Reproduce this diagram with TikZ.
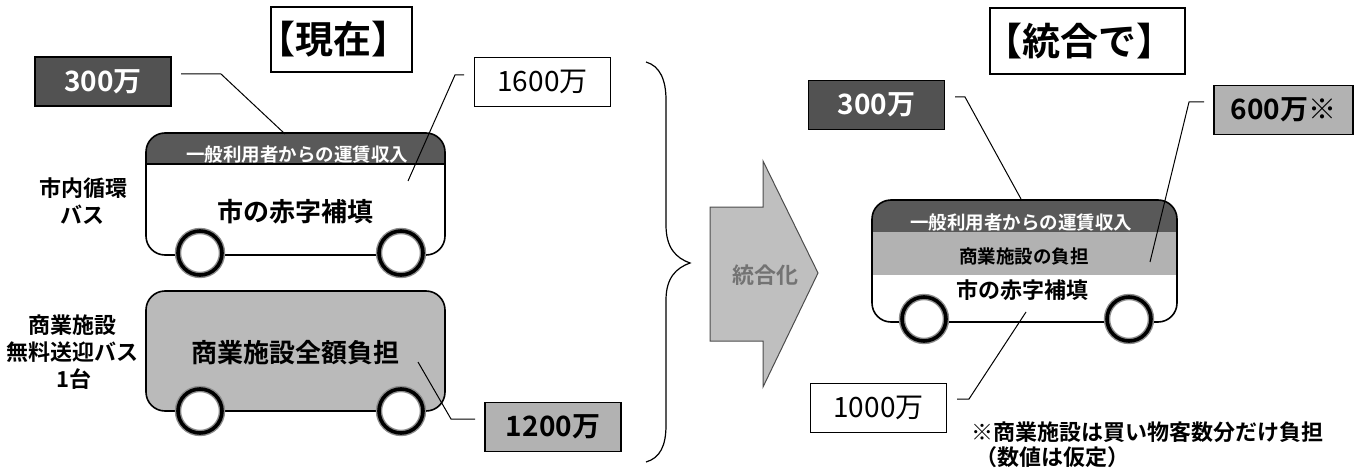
\documentclass[tikz,border=0pt]{standalone}
\usepackage{fontspec}
\setmainfont{Noto Sans CJK JP}[BoldFont={Noto Sans CJK JP Bold}]
\newcommand{\fs}[1]{\fontsize{#1pt}{#1pt}\selectfont}
\newcommand{\tgt}{\hspace{-.42em}}
\tikzset{
  valbox/.style={draw=black,line width=1.2pt,minimum width=#1,minimum height=49pt,inner sep=0pt,font=\fs{28}\bfseries},
  valbox/.default=136pt,
  darkbox/.style={valbox,fill=black!68,text=white},
  lightbox/.style={valbox,fill=black!30,text=black},
  whitebox/.style={valbox,fill=white,text=black,font=\fs{28}},
  titlebox/.style={draw=black,line width=1.2pt,fill=white,inner sep=0pt,font=\fs{38}\bfseries},
  busbody/.style={rounded corners=19pt,line width=1.6pt},
  wheel/.style={circle,draw=black!45,double=black,line width=1.4pt,double distance=3.6pt,fill=white,
     minimum size=44pt,inner sep=0pt},
  leader/.style={draw=black,line width=1pt},
  captxt/.style={inner sep=0pt,font=\fs{22}\bfseries,text=black},
  bandtxt/.style={inner sep=0pt,font=\fs{18.5}\bfseries,text=white},
  bustxt/.style={inner sep=0pt,font=\fs{26}\bfseries,text=black},
  bustxts/.style={inner sep=0pt,font=\fs{22}\bfseries,text=black},
}
\begin{document}
\begin{tikzpicture}[x=1pt,y=-1pt]
\useasboundingbox (0,0) rectangle (1362,468);

% titles
\node[titlebox,minimum width=141pt,minimum height=65pt] (t1) at (341.5,39.5) {\tgt【現在】\tgt};
\node[titlebox,minimum width=195pt,minimum height=66pt] (t2) at (1087.5,41) {\tgt【統合で】\tgt};

% left: bus 1
\fill[white,rounded corners=19pt] (146,133) rectangle (445,255);
\begin{scope}
  \clip[rounded corners=19pt] (146,133) rectangle (445,255);
  \fill[black!65] (146,133) rectangle (445,164);
\end{scope}
\draw[busbody] (146,133) rectangle (445,255);
\draw[line width=1.2pt] (146,164) -- (445,164);
\node[bandtxt] (b1band) at (297,155) {一般利用者からの運賃収入};
\node[bustxt] (b1txt) at (295,212) {市の赤字補填};
\node[wheel] (w1a) at (200,253) {};
\node[wheel] (w1b) at (401,253) {};

% left: bus 2
\filldraw[busbody,fill=black!27] (146,291) rectangle (445,411);
\node[bustxt] (b2txt) at (295,353) {商業施設全額負担};
\node[wheel] (w2a) at (200,411) {};
\node[wheel] (w2b) at (401,411) {};

% captions
\node[captxt] (c1) at (83,188) {市内循環};
\node[captxt] (c2) at (82,215) {バス};
\node[captxt] (c3) at (72,325) {商業施設};
\node[captxt] (c4) at (72,352) {無料送迎バス};
\node[captxt] (c5) at (74,379) {1台};

% left value boxes
\node[darkbox] (v300a) at (103,81.5) {300万};
\node[whitebox] (v1600) at (542.5,82) {1600万};
\node[lightbox] (v1200) at (553,427) {1200万};

% left leaders
\coordinate (l1s) at (181,74); \coordinate (l1e) at (285,134);
\draw[leader] (l1s) -- (221,74) -- (l1e);
\coordinate (l2s) at (464,75); \coordinate (l2e) at (408,181);
\draw[leader] (l2s) -- (455,75) -- (l2e);
\coordinate (l3s) at (418,362); \coordinate (l3e) at (475,419);
\draw[leader] (l3s) -- (451,419) -- (l3e);

% brace
\coordinate (brTop) at (646,62); \coordinate (brTip) at (690,263); \coordinate (brBot) at (646,462);
\draw[line width=1.2pt] (brTop) .. controls (660,66) and (666,80) .. (666,100)
  -- (666,225) .. controls (666,248) and (676,258) .. (brTip)
  .. controls (676,268) and (666,278) .. (666,300)
  -- (666,425) .. controls (666,446) and (660,458) .. (brBot);

% big arrow
\filldraw[draw=black!70,line width=1pt,fill=black!25]
  (710,207) -- (763,207) -- (763,161) -- (818,273) -- (763,387) -- (763,341) -- (710,341) -- cycle;
\node[inner sep=0pt,font=\fs{22}\bfseries,text=black!55] (int) at (765,275) {統合化};

% right: bus 3
\fill[white,rounded corners=19pt] (872,200) rectangle (1177,322);
\begin{scope}
  \clip[rounded corners=19pt] (872,200) rectangle (1177,322);
  \fill[black!65] (872,200) rectangle (1177,232);
  \fill[black!30] (872,232) rectangle (1177,275);
\end{scope}
\draw[busbody] (872,200) rectangle (1177,322);
\node[bandtxt] (b3band) at (1021,223) {一般利用者からの運賃収入};
\node[inner sep=0pt,font=\fs{18.5}\bfseries,text=black] (b3mid) at (1024,257) {商業施設の負担};
\node[bustxts] (b3txt) at (1022,290) {市の赤字補填};
\node[wheel] (w3a) at (924,319) {};
\node[wheel] (w3b) at (1129,319) {};

% right value boxes
\node[darkbox] (v300b) at (876.5,105) {300万};
\node[lightbox,minimum width=139pt] (v600) at (1283.5,110) {600万※};
\node[whitebox] (v1000) at (878.5,408) {1000万};

% right leaders
\coordinate (r1s) at (955,97); \coordinate (r1e) at (1021,199);
\draw[leader] (r1s) -- (965,97) -- (r1e);
\coordinate (r2s) at (1204,102); \coordinate (r2e) at (1150,262);
\draw[leader] (r2s) -- (1189,102) -- (r2e);
\coordinate (r3s) at (957,399); \coordinate (r3e) at (1026,312);
\draw[leader] (r3s) -- (969,399) -- (r3e);

% note
\node[inner sep=0pt,anchor=west,font=\fs{22}\bfseries,text=black] (n1) at (971,432) {※商業施設は買い物客数分だけ負担};
\node[inner sep=0pt,anchor=west,font=\fs{22}\bfseries,text=black] (n2) at (975,457) {（数値は仮定）};
\end{tikzpicture}
\end{document}
